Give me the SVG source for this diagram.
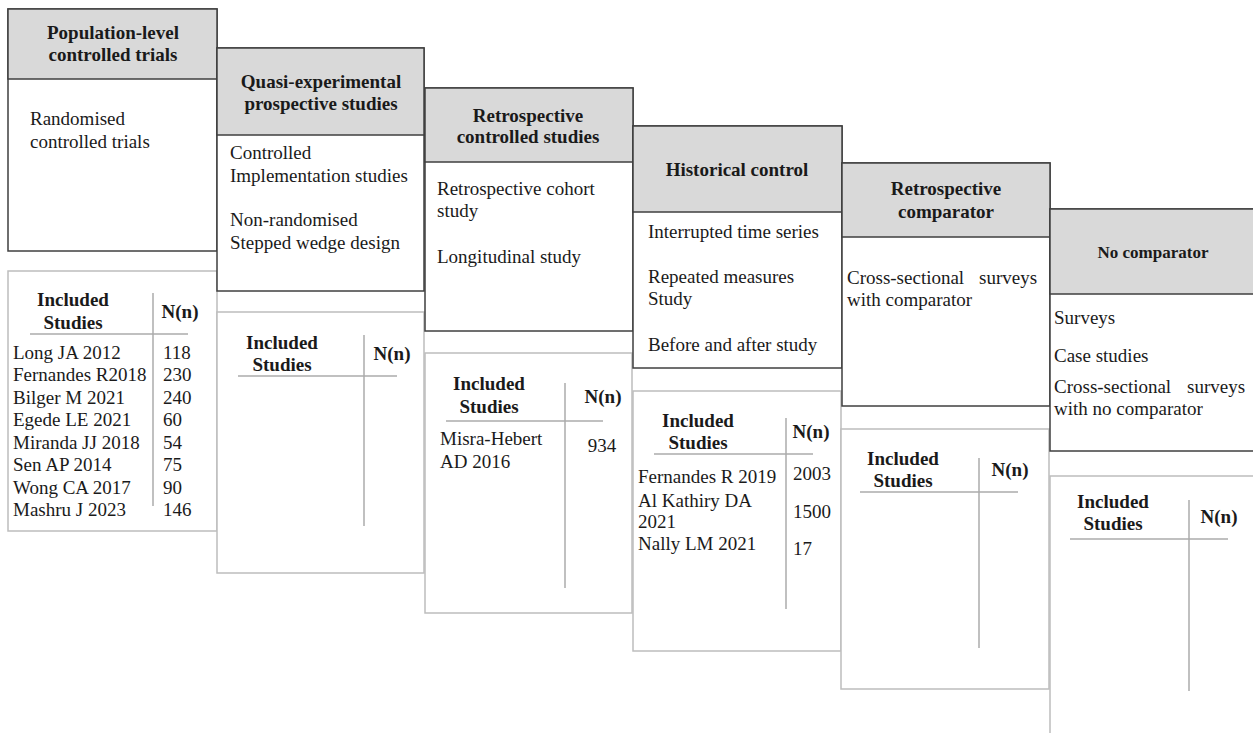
<svg xmlns="http://www.w3.org/2000/svg" width="1253" height="733" viewBox="0 0 1253 733">
<style>
.top{fill:#fff;stroke:#3f3f3f;stroke-width:1.5}
.hdr{fill:#d9d9d9;stroke:#3f3f3f;stroke-width:1.5}
.low{fill:#fff;stroke:#bdbdbd;stroke-width:1.5}
.tl{stroke:#ababab;stroke-width:1.5;fill:none}
text{font-family:'Liberation Serif','Times New Roman',serif !important;font-size:19px;fill:#1a1a1a}
.h{font-weight:bold;text-anchor:middle}
.c{text-anchor:middle}
</style>
<rect width="1253" height="733" fill="#fff"/>

<g id="col1">
<rect class="low" x="8" y="271" width="209" height="260"/>
<rect class="top" x="8" y="9" width="209" height="242"/>
<rect class="hdr" x="8" y="9" width="209" height="70"/>
<text style="font-family:'Liberation Serif',serif" class="h" x="113" y="39">Population-level</text>
<text style="font-family:'Liberation Serif',serif" class="h" x="113" y="61">controlled trials</text>
<text style="font-family:'Liberation Serif',serif" x="30" y="125">Randomised</text>
<text style="font-family:'Liberation Serif',serif" x="30" y="148">controlled trials</text>
<line class="tl" x1="153" y1="293" x2="153" y2="506"/>
<line class="tl" x1="30" y1="334" x2="188" y2="334"/>
<text style="font-family:'Liberation Serif',serif" class="h" x="73" y="306">Included</text>
<text style="font-family:'Liberation Serif',serif" class="h" x="73" y="329">Studies</text>
<text style="font-family:'Liberation Serif',serif" class="h" x="180" y="318">N(n)</text>
<text style="font-family:'Liberation Serif',serif" x="13" y="359">Long JA 2012</text>
<text style="font-family:'Liberation Serif',serif" x="13" y="381">Fernandes R2018</text>
<text style="font-family:'Liberation Serif',serif" x="13" y="404">Bilger M 2021</text>
<text style="font-family:'Liberation Serif',serif" x="13" y="426">Egede LE 2021</text>
<text style="font-family:'Liberation Serif',serif" x="13" y="449">Miranda JJ 2018</text>
<text style="font-family:'Liberation Serif',serif" x="13" y="471">Sen AP 2014</text>
<text style="font-family:'Liberation Serif',serif" x="13" y="494">Wong CA 2017</text>
<text style="font-family:'Liberation Serif',serif" x="13" y="516">Mashru J 2023</text>
<text style="font-family:'Liberation Serif',serif" x="163" y="359">118</text>
<text style="font-family:'Liberation Serif',serif" x="163" y="381">230</text>
<text style="font-family:'Liberation Serif',serif" x="163" y="404">240</text>
<text style="font-family:'Liberation Serif',serif" x="163" y="426">60</text>
<text style="font-family:'Liberation Serif',serif" x="163" y="449">54</text>
<text style="font-family:'Liberation Serif',serif" x="163" y="471">75</text>
<text style="font-family:'Liberation Serif',serif" x="163" y="494">90</text>
<text style="font-family:'Liberation Serif',serif" x="163" y="516">146</text>
</g>

<g id="col2">
<rect class="low" x="217" y="312" width="207" height="261"/>
<rect class="top" x="217" y="48" width="207" height="243"/>
<rect class="hdr" x="217" y="48" width="207" height="87"/>
<text style="font-family:'Liberation Serif',serif" class="h" x="321" y="88">Quasi-experimental</text>
<text style="font-family:'Liberation Serif',serif" class="h" x="321" y="110">prospective studies</text>
<text style="font-family:'Liberation Serif',serif" x="230" y="159">Controlled</text>
<text style="font-family:'Liberation Serif',serif" x="230" y="182">Implementation studies</text>
<text style="font-family:'Liberation Serif',serif" x="230" y="226">Non-randomised</text>
<text style="font-family:'Liberation Serif',serif" x="230" y="249">Stepped wedge design</text>
<line class="tl" x1="364" y1="335" x2="364" y2="526"/>
<line class="tl" x1="238" y1="376" x2="397" y2="376"/>
<text style="font-family:'Liberation Serif',serif" class="h" x="282" y="349">Included</text>
<text style="font-family:'Liberation Serif',serif" class="h" x="282" y="371">Studies</text>
<text style="font-family:'Liberation Serif',serif" class="h" x="392" y="360">N(n)</text>
</g>

<g id="col3">
<rect class="low" x="425" y="353" width="207" height="260"/>
<rect class="top" x="425" y="88" width="208" height="243"/>
<rect class="hdr" x="425" y="88" width="208" height="74"/>
<text style="font-family:'Liberation Serif',serif" class="h" x="528" y="122">Retrospective</text>
<text style="font-family:'Liberation Serif',serif" class="h" x="528" y="143">controlled studies</text>
<text style="font-family:'Liberation Serif',serif" x="437" y="195">Retrospective cohort</text>
<text style="font-family:'Liberation Serif',serif" x="437" y="217">study</text>
<text style="font-family:'Liberation Serif',serif" x="437" y="263">Longitudinal study</text>
<line class="tl" x1="565" y1="383" x2="565" y2="588"/>
<line class="tl" x1="446" y1="421" x2="603" y2="421"/>
<text style="font-family:'Liberation Serif',serif" class="h" x="489" y="390">Included</text>
<text style="font-family:'Liberation Serif',serif" class="h" x="489" y="413">Studies</text>
<text style="font-family:'Liberation Serif',serif" class="h" x="603" y="403">N(n)</text>
<text style="font-family:'Liberation Serif',serif" x="440" y="445">Misra-Hebert</text>
<text style="font-family:'Liberation Serif',serif" x="440" y="468">AD 2016</text>
<text style="font-family:'Liberation Serif',serif" class="c" x="602" y="452">934</text>
</g>

<g id="col4">
<rect class="low" x="633" y="391" width="208" height="260"/>
<rect class="top" x="633" y="126" width="209" height="242"/>
<rect class="hdr" x="633" y="126" width="209" height="86"/>
<text style="font-family:'Liberation Serif',serif" class="h" x="737" y="176">Historical control</text>
<text style="font-family:'Liberation Serif',serif" x="648" y="238">Interrupted time series</text>
<text style="font-family:'Liberation Serif',serif" x="648" y="283">Repeated measures</text>
<text style="font-family:'Liberation Serif',serif" x="648" y="305">Study</text>
<text style="font-family:'Liberation Serif',serif" x="648" y="351">Before and after study</text>
<line class="tl" x1="786" y1="418" x2="786" y2="609"/>
<line class="tl" x1="654" y1="454" x2="813" y2="454"/>
<text style="font-family:'Liberation Serif',serif" class="h" x="698" y="427">Included</text>
<text style="font-family:'Liberation Serif',serif" class="h" x="698" y="449">Studies</text>
<text style="font-family:'Liberation Serif',serif" class="h" x="811" y="438">N(n)</text>
<text style="font-family:'Liberation Serif',serif" x="638" y="483">Fernandes R 2019</text>
<text style="font-family:'Liberation Serif',serif" x="638" y="507">Al Kathiry DA</text>
<text style="font-family:'Liberation Serif',serif" x="638" y="528">2021</text>
<text style="font-family:'Liberation Serif',serif" x="638" y="550">Nally LM 2021</text>
<text style="font-family:'Liberation Serif',serif" x="793" y="480">2003</text>
<text style="font-family:'Liberation Serif',serif" x="793" y="518">1500</text>
<text style="font-family:'Liberation Serif',serif" x="793" y="555">17</text>
</g>

<g id="col5">
<rect class="low" x="841" y="429" width="208" height="260"/>
<rect class="top" x="842" y="163" width="208" height="243"/>
<rect class="hdr" x="842" y="163" width="208" height="74"/>
<text style="font-family:'Liberation Serif',serif" class="h" x="946" y="195">Retrospective</text>
<text style="font-family:'Liberation Serif',serif" class="h" x="946" y="218">comparator</text>
<text style="font-family:'Liberation Serif',serif" x="847" y="284">Cross-sectional</text>
<text style="font-family:'Liberation Serif',serif" x="979" y="284">surveys</text>
<text style="font-family:'Liberation Serif',serif" x="847" y="306">with comparator</text>
<line class="tl" x1="979" y1="458" x2="979" y2="648"/>
<line class="tl" x1="860" y1="492" x2="1018" y2="492"/>
<text style="font-family:'Liberation Serif',serif" class="h" x="903" y="465">Included</text>
<text style="font-family:'Liberation Serif',serif" class="h" x="903" y="487">Studies</text>
<text style="font-family:'Liberation Serif',serif" class="h" x="1010" y="476">N(n)</text>
</g>

<g id="col6">
<rect class="low" x="1050" y="476" width="210" height="270"/>
<rect class="top" x="1050" y="209" width="210" height="242"/>
<rect class="hdr" x="1050" y="209" width="210" height="85"/>
<text class="h" x="1153" y="258" style="font-family:'Liberation Serif',serif;font-size:17px">No comparator</text>
<text style="font-family:'Liberation Serif',serif" x="1054" y="324">Surveys</text>
<text style="font-family:'Liberation Serif',serif" x="1054" y="362">Case studies</text>
<text style="font-family:'Liberation Serif',serif" x="1054" y="393">Cross-sectional</text>
<text style="font-family:'Liberation Serif',serif" x="1187" y="393">surveys</text>
<text style="font-family:'Liberation Serif',serif" x="1054" y="415">with no comparator</text>
<line class="tl" x1="1189" y1="500" x2="1189" y2="691"/>
<line class="tl" x1="1070" y1="539" x2="1228" y2="539"/>
<text style="font-family:'Liberation Serif',serif" class="h" x="1113" y="508">Included</text>
<text style="font-family:'Liberation Serif',serif" class="h" x="1113" y="530">Studies</text>
<text style="font-family:'Liberation Serif',serif" class="h" x="1219" y="523">N(n)</text>
</g>

<g id="connectors"></g>
</svg>
